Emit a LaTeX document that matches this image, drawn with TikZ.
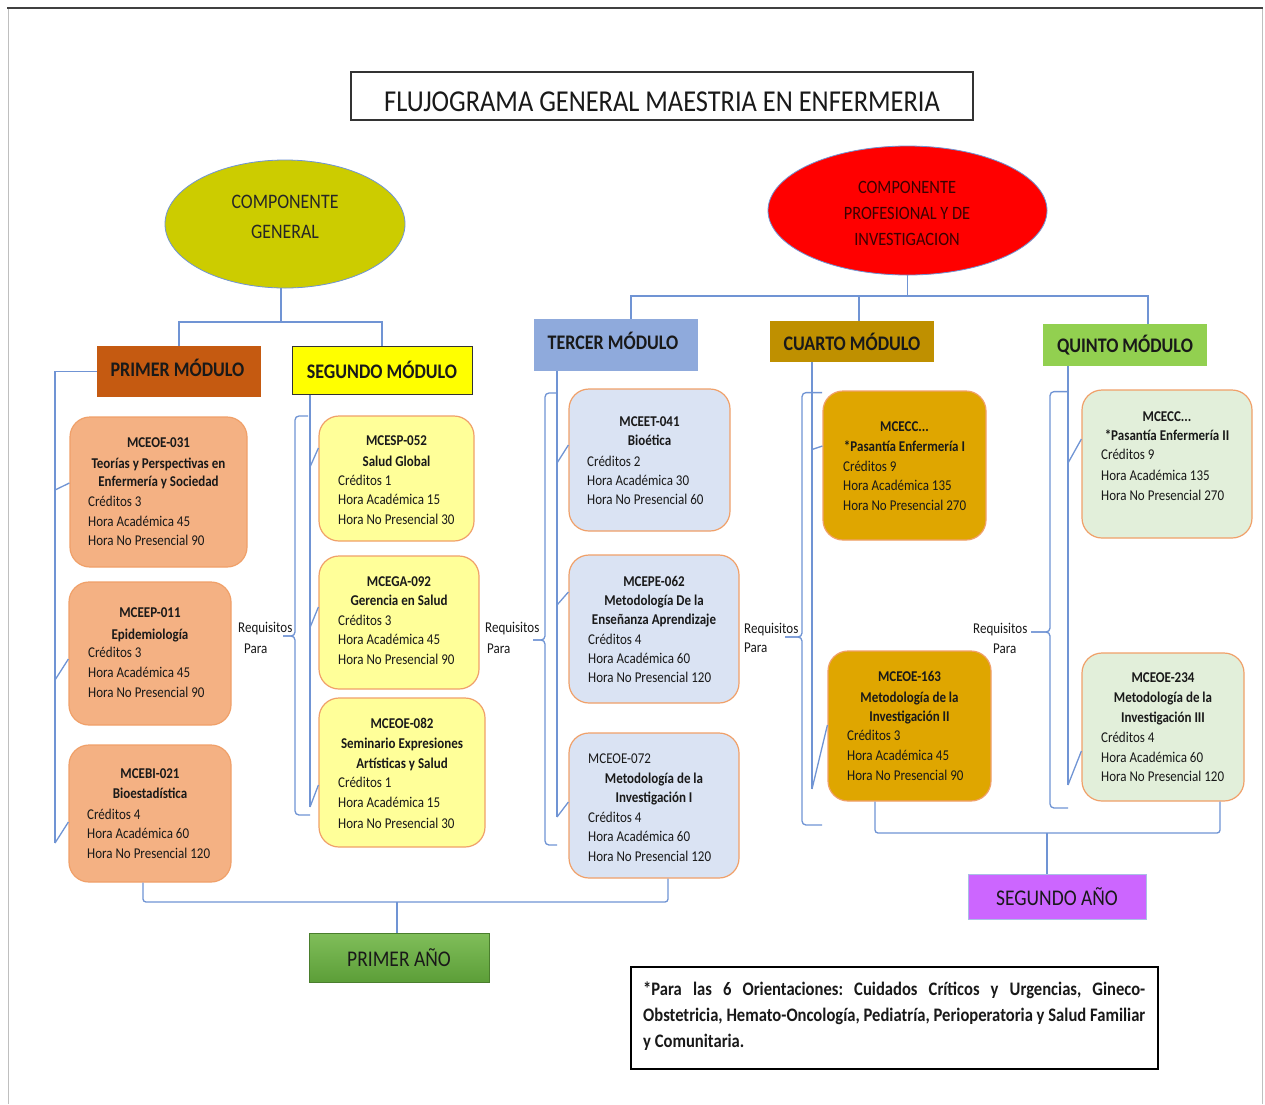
\documentclass[tikz,border=0pt]{standalone}
\usepackage{fontspec}
\setmainfont{Carlito}
\usepackage{graphicx}
\usetikzlibrary{shapes.geometric}
\definecolor{lnc}{RGB}{112,148,212}
\definecolor{obord}{RGB}{240,160,105}
\definecolor{cP}{RGB}{244,177,131}
\definecolor{cS}{RGB}{255,255,153}
\definecolor{cT}{RGB}{218,227,243}
\definecolor{cC}{RGB}{223,166,0}
\definecolor{cQ}{RGB}{226,239,218}
\definecolor{hP}{RGB}{197,90,17}
\definecolor{hS}{RGB}{255,255,0}
\definecolor{hT}{RGB}{143,170,220}
\definecolor{hC}{RGB}{191,144,0}
\definecolor{hQ}{RGB}{146,208,80}
\definecolor{eG}{RGB}{204,204,0}
\definecolor{eR}{RGB}{255,0,0}
\definecolor{gA}{RGB}{128,190,90}
\definecolor{gB}{RGB}{92,158,56}
\definecolor{sA}{RGB}{204,102,255}
\definecolor{txt}{RGB}{25,25,25}
\newcommand\vs[1]{\scalebox{1}[1.15]{#1}}
\newcommand\threedots{...}
\newcommand\crstitle[2]{%
  \foreach \cy/\ctext [count=\k] in {#2}
    \node[ctitle] (#1-t\k) at (#1.center |- 0,\cy) {\vs{\ctext}};}
\newcommand\crsinfo[3]{%
  \foreach \cy/\ctext [count=\k] in {#3}
    \node[cinfo] (#1-i\k) at (#2,\cy) {\vs{\ctext}};}
\begin{document}
\begin{tikzpicture}[x=1pt,y=-1pt,
  cn/.style={draw=lnc, line width=1.3pt},
  cbox/.style={draw=obord, line width=1.2pt, rounded corners=20pt, inner sep=0pt},
  hdr/.style={inner sep=0pt, text=txt, font=\fontsize{18}{20}\selectfont\bfseries},
  ctitle/.style={anchor=mid, inner sep=0pt, yshift=-2pt, text=txt, font=\fontsize{13}{15}\selectfont\bfseries},
  cinfo/.style={anchor=mid west, inner sep=0pt, yshift=-2pt, text=txt, font=\fontsize{13}{15}\selectfont},
  req/.style={anchor=mid west, inner sep=0pt, yshift=-2.5pt, text=txt, font=\fontsize{13}{15}\selectfont},
  fnt/.style={anchor=mid west, inner sep=0pt, yshift=-3pt, text=txt, font=\fontsize{16.6}{18}\selectfont\bfseries\frenchspacing}]
\fill[white] (0,0) rectangle (1265,1104);
\useasboundingbox (0,0) rectangle (1265,1104);
% page frame
\draw[black!25, line width=1pt] (8,1104) -- (8,8);
\draw[black!25, line width=1pt] (1262,8) -- (1262,1104);
\draw[black!75, line width=2pt] (7,8) -- (1263,8);
% title
\node[draw=black!80, line width=1.2pt, minimum width=622, minimum height=48, inner sep=0pt] (TB) at (662,96) {};
\node[inner sep=0pt, text=txt, font=\fontsize{26.4}{30}\selectfont] (TT) at (662,101.5) {\vs{FLUJOGRAMA GENERAL MAESTRIA EN ENFERMERIA}};
% ellipses
\node[ellipse, draw=lnc, line width=0.8pt, fill=eG, minimum width=240, minimum height=128, inner sep=0pt] (E1) at (285,224) {};
\node[inner sep=0pt, text=black!85, font=\fontsize{17.9}{20}\selectfont] (E1a) at (285,202) {\vs{COMPONENTE}};
\node[inner sep=0pt, text=black!85, font=\fontsize{17.9}{20}\selectfont] (E1b) at (285,231.5) {\vs{GENERAL}};
\node[ellipse, draw=lnc, line width=0.8pt, fill=eR, minimum width=279, minimum height=129, inner sep=0pt] (E2) at (907.5,210.5) {};
\node[inner sep=0pt, text={rgb,255:red,60;green,0;blue,0}, font=\fontsize{16.4}{20}\selectfont] (E2a) at (907,187.5) {\vs{COMPONENTE}};
\node[inner sep=0pt, text={rgb,255:red,60;green,0;blue,0}, font=\fontsize{16.4}{20}\selectfont] (E2b) at (907,213.5) {\vs{PROFESIONAL Y DE}};
\node[inner sep=0pt, text={rgb,255:red,60;green,0;blue,0}, font=\fontsize{16.4}{20}\selectfont] (E2c) at (907,239.5) {\vs{INVESTIGACION}};
% module headers
\node[hdr, fill=hP, minimum width=164, minimum height=51] (H1) at (179,371.5) {};
\node[hdr] (H1t) at (177.5,367.5) {\vs{PRIMER MÓDULO}};
\node[hdr, fill=hS, draw=black!80, line width=1pt, minimum width=180, minimum height=48] (H2) at (382,370) {\vs{SEGUNDO MÓDULO}};
\node[hdr, fill=hT, minimum width=164, minimum height=52] (H3) at (616,345) {};
\node[hdr] (H3t) at (613,341) {\vs{TERCER MÓDULO}};
\node[hdr, fill=hC, minimum width=164, minimum height=41] (H4) at (852,341.5) {\vs{CUARTO MÓDULO}};
\node[hdr, fill=hQ, minimum width=164, minimum height=42] (H5) at (1125,345) {\vs{QUINTO MÓDULO}};
% component connectors
\draw[cn] (281,0 |- E1.south) -- (281,322);
\draw[cn] (H1.north) -- (H1.north |- 0,322) -- (H2.north |- 0,322) -- (H2.north);
\draw[cn] (E2.south) -- (E2.south |- 0,296);
\draw[cn] (631,0 |- H3.north) -- (631,296) -- (1148,296) -- (1148,0 |- H5.north);
\draw[cn] (859,296) -- (859,0 |- H4.north);
% course boxes
\node[cbox, fill=cP, minimum width=177, minimum height=150] (A) at (158.5,492) {};
\node[cbox, fill=cP, minimum width=162, minimum height=143] (B) at (150,653.5) {};
\node[cbox, fill=cP, minimum width=162, minimum height=137] (C) at (150,813.5) {};
\node[cbox, fill=cS, minimum width=155, minimum height=125] (D) at (396.5,478.5) {};
\node[cbox, fill=cS, minimum width=160, minimum height=133] (E) at (399,622.5) {};
\node[cbox, fill=cS, minimum width=166, minimum height=149] (F) at (402,772.5) {};
\node[cbox, fill=cT, minimum width=161, minimum height=142] (G) at (649.5,460) {};
\node[cbox, fill=cT, minimum width=170, minimum height=148] (H) at (654,629) {};
\node[cbox, fill=cT, minimum width=170, minimum height=145] (I) at (654,805.5) {};
\node[cbox, fill=cC, minimum width=163, minimum height=149] (J) at (904.5,465.5) {};
\node[cbox, fill=cC, minimum width=163, minimum height=150] (K) at (909.5,726) {};
\node[cbox, fill=cQ, minimum width=170, minimum height=148] (L) at (1167,464) {};
\node[cbox, fill=cQ, minimum width=162, minimum height=148] (M) at (1163,727) {};
% course texts
\crstitle{A}{442.7/MCEOE-031, 464/Teorías y Perspectivas en, 482/Enfermería y Sociedad}
\crsinfo{A}{88}{501.7/Créditos 3, 521.7/Hora Académica 45, 540.7/Hora No Presencial 90}
\crstitle{B}{613.3/MCEEP-011, 635/Epidemiología}
\crsinfo{B}{88}{653/Créditos 3, 673/Hora Académica 45, 693/Hora No Presencial 90}
\crstitle{C}{774/MCEBI-021, 794/Bioestadística}
\crsinfo{C}{87}{815/Créditos 4, 834/Hora Académica 60, 854/Hora No Presencial 120}
\crstitle{D}{441.6/MCESP-052, 461.8/Salud Global}
\crsinfo{D}{338}{481/Créditos 1, 499.7/Hora Académica 15, 520.3/Hora No Presencial 30}
\crstitle{E}{582/MCEGA-092, 601/Gerencia en Salud}
\crsinfo{E}{338}{620.7/Créditos 3, 640.3/Hora Académica 45, 659.6/Hora No Presencial 90}
\crstitle{F}{723.8/MCEOE-082, 744.1/Seminario Expresiones, 764.4/Artísticas y Salud}
\crsinfo{F}{338}{783/Créditos 1, 803.3/Hora Académica 15, 823.6/Hora No Presencial 30}
\crstitle{G}{421.7/MCEET-041, 441/Bioética}
\crsinfo{G}{587}{461.7/Créditos 2, 480.7/Hora Académica 30, 500/Hora No Presencial 60}
\crstitle{H}{581.7/MCEPE-062, 601/Metodología De la, 620/Enseñanza Aprendizaje}
\crsinfo{H}{588}{640/Créditos 4, 659/Hora Académica 60, 678/Hora No Presencial 120}
\crstitle{I}{779/Metodología de la, 798/Investigación I}
\crsinfo{I}{588}{759/MCEOE-072, 818/Créditos 4, 837/Hora Académica 60, 857/Hora No Presencial 120}
\crstitle{J}{427/MCECC\threedots, 447/*Pasantía Enfermería I}
\crsinfo{J}{843}{466.7/Créditos 9, 486.3/Hora Académica 135, 506.3/Hora No Presencial 270}
\crstitle{K}{676.7/MCEOE-163, 698/Metodología de la, 717.4/Investigación II}
\crsinfo{K}{847}{736.3/Créditos 3, 756/Hora Académica 45, 776/Hora No Presencial 90}
\crstitle{L}{416.7/MCECC\threedots, 436/*Pasantía Enfermería II}
\crsinfo{L}{1101}{455.3/Créditos 9, 476/Hora Académica 135, 496/Hora No Presencial 270}
\crstitle{M}{678.5/MCEOE-234, 698.4/Metodología de la, 718/Investigación III}
\crsinfo{M}{1101}{737.7/Créditos 4, 757.7/Hora Académica 60, 777.3/Hora No Presencial 120}
% module spines
\draw[cn] (H1.west) -- (55,0 |- H1.west) -- (55,843);
\draw[cn] (55,490) -- (A.west |- 0,483);
\draw[cn] (55,680) -- (B.west |- 0,659);
\draw[cn] (55,843) -- (C.west |- 0,822);
\draw[cn] (310,0 |- H2.south) -- (310,807);
\draw[cn] (310,467) -- (D.west |- 0,448);
\draw[cn] (310,627.5) -- (E.west |- 0,607);
\draw[cn] (310,807) -- (F.west |- 0,785);
\draw[cn] (557,0 |- H3.south) -- (557,817);
\draw[cn] (557,463) -- (G.west |- 0,445);
\draw[cn] (557,605) -- (H.west |- 0,592);
\draw[cn] (557,817) -- (I.west |- 0,802);
\draw[cn] (812,0 |- H4.south) -- (812,789);
\draw[cn] (812,449.5) -- (J.west |- 0,446);
\draw[cn] (812,789) -- (K.west |- 0,725);
\draw[cn] (1068,0 |- H5.south) -- (1068,785);
\draw[cn] (1068,463) -- (L.west |- 0,439);
\draw[cn] (1068,785) -- (M.west |- 0,751);
% braces
\draw[cn, rounded corners=4pt] (308,416) -- (295,416) -- (295,636) -- (283,636);
\draw[cn, rounded corners=4pt] (283,636) -- (295,636) -- (295,815) -- (310,815);
\draw[cn, rounded corners=4pt] (557,393) -- (545,393) -- (545,640) -- (533,640);
\draw[cn, rounded corners=4pt] (533,640) -- (545,640) -- (545,845) -- (557,845);
\draw[cn, rounded corners=4pt] (822,392.6) -- (802,392.6) -- (802,637) -- (785,637);
\draw[cn, rounded corners=4pt] (785,637) -- (802,637) -- (802,825) -- (822,825);
\draw[cn, rounded corners=4pt] (1068,391.6) -- (1050,391.6) -- (1050,632) -- (1031,632);
\draw[cn, rounded corners=4pt] (1031,632) -- (1050,632) -- (1050,808) -- (1068,808);
% requisitos labels
\node[req] (R1a) at (238,628) {\vs{Requisitos}};
\node[req] (R1b) at (244,648.5) {\vs{Para}};
\node[req] (R2a) at (485,628) {\vs{Requisitos}};
\node[req] (R2b) at (487,648.5) {\vs{Para}};
\node[req] (R3a) at (744,629) {\vs{Requisitos}};
\node[req] (R3b) at (744,647.5) {\vs{Para}};
\node[req] (R4a) at (973,628.5) {\vs{Requisitos}};
\node[req] (R4b) at (993,649) {\vs{Para}};
% years
\node[inner sep=0pt, top color=gA, bottom color=gB, draw=gB!80!black, line width=0.5pt, minimum width=180, minimum height=49, text=txt, font=\fontsize{19.5}{22}\selectfont] (PA) at (399,957.5) {\vs{PRIMER AÑO}};
\node[inner sep=0pt, fill=sA, draw=lnc!60, line width=0.8pt, minimum width=178, minimum height=45, text=txt, font=\fontsize{19.5}{22}\selectfont] (SA) at (1057,896.5) {\vs{SEGUNDO AÑO}};
\draw[cn, rounded corners=3pt] (143,0 |- C.south) -- (143,902) -- (668,902) -- (668,0 |- I.south);
\draw[cn] (397,902) -- (397,0 |- PA.north);
\draw[cn, rounded corners=3pt] (875,0 |- K.south) -- (875,833) -- (1220,833) -- (1220,0 |- M.south);
\draw[cn] (1047,833) -- (1047,0 |- SA.north);
% footnote
\node[draw=black, line width=2pt, minimum width=527, minimum height=102, inner sep=0pt] (FN) at (894.5,1018) {};
\node[fnt] (FN1) at (643,990) {\vs{\makebox[502pt][s]{*Para las 6 Orientaciones: Cuidados Críticos y Urgencias, Gineco-}}};
\node[fnt] (FN2) at (643,1016.5) {\vs{\makebox[502pt][s]{Obstetricia, Hemato-Oncología, Pediatría, Perioperatoria y Salud Familiar}}};
\node[fnt] (FN3) at (643,1042.5) {\vs{y Comunitaria.}};
\end{tikzpicture}
\end{document}
